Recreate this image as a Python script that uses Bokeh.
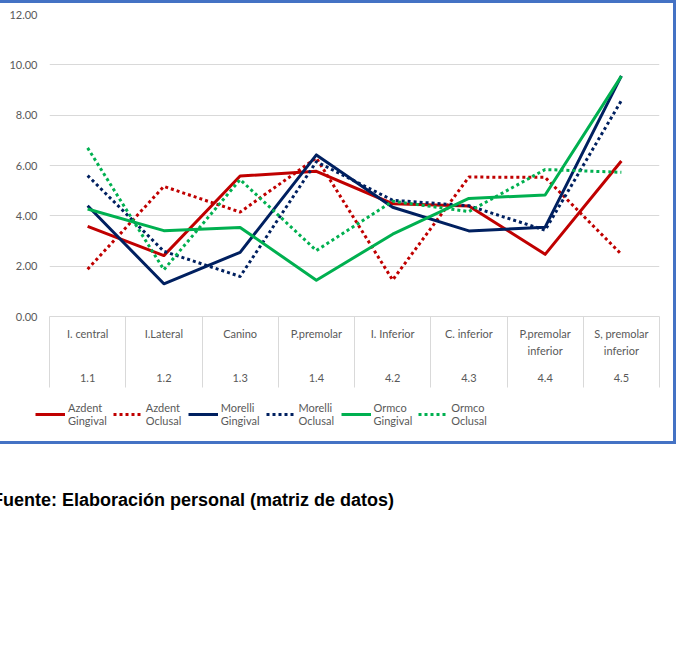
from bokeh.plotting import figure
from bokeh.models import (FixedTicker, LinearAxis, Range1d, Legend, LegendItem,
                          NumeralTickFormatter, Div)
from bokeh.layouts import column
from bokeh.embed import file_html
from bokeh.resources import INLINE

categories = ["I. central", "I.Lateral", "Canino", "P.premolar", "I. Inferior",
              "C. inferior", "P.premolar\ninferior", "S, premolar\ninferior"]
codes = ["1.1", "1.2", "1.3", "1.4", "4.2", "4.3", "4.4", "4.5"]
y_ticks = [0, 2, 4, 6, 8, 10, 12]

azdent_gingival = [3.58, 2.42, 5.58, 5.77, 4.48, 4.39, 2.47, 6.18]
azdent_oclusal = [1.88, 5.17, 4.15, 6.30, 1.45, 5.54, 5.53, 2.47]
morelli_gingival = [4.40, 1.30, 2.55, 6.42, 4.34, 3.40, 3.55, 9.56]
morelli_oclusal = [5.60, 2.59, 1.59, 6.15, 4.62, 4.40, 3.43, 8.58]
ormco_gingival = [4.27, 3.41, 3.54, 1.44, 3.27, 4.69, 4.83, 9.55]
ormco_oclusal = [6.70, 1.86, 5.44, 2.62, 4.58, 4.17, 5.84, 5.73]

series = [
    ("Azdent\nGingival", azdent_gingival, "#C00000", "solid"),
    ("Azdent\nOclusal", azdent_oclusal, "#C00000", "3 3"),
    ("Morelli\nGingival", morelli_gingival, "#002060", "solid"),
    ("Morelli\nOclusal", morelli_oclusal, "#002060", "3 3"),
    ("Ormco\nGingival", ormco_gingival, "#00B050", "solid"),
    ("Ormco\nOclusal", ormco_oclusal, "#00B050", "3 3"),
]

n = len(categories)
centers = [i + 0.5 for i in range(n)]
bounds = [float(i) for i in range(n + 1)]

FONT = "Lato"
GREY = "#595959"
GRID = "#d9d9d9"

p = figure(width=676, height=389, x_range=Range1d(0, n), y_range=Range1d(0, 12),
           output_backend="svg", toolbar_location=None, x_axis_location=None,
           min_border_left=52, min_border_right=14, min_border_top=11,
           min_border_bottom=76)
p.outline_line_color = None
p.background_fill_color = "white"
p.border_fill_color = "white"

# y axis
yax = p.yaxis[0]
yax.ticker = FixedTicker(ticks=y_ticks)
yax.formatter = NumeralTickFormatter(format="0.00")
yax.axis_line_color = None
yax.major_tick_line_color = None
yax.minor_tick_line_color = None
yax.major_tick_out = 0
yax.minor_tick_out = 0
yax.major_label_standoff = 12
yax.major_label_text_font = FONT
yax.major_label_text_font_size = "11px"
yax.major_label_text_color = GREY

p.xgrid.visible = False
p.ygrid.ticker = FixedTicker(ticks=y_ticks)
p.ygrid.grid_line_color = GRID

# category axis: names with separators
SEP = 71
ax1 = LinearAxis(ticker=FixedTicker(ticks=centers, minor_ticks=bounds),
                 major_label_overrides={c: t for c, t in zip(centers, categories)})
ax1.axis_line_color = GRID
ax1.major_tick_line_color = None
ax1.major_tick_out = 0
ax1.major_tick_in = 0
ax1.minor_tick_in = 0
ax1.minor_tick_out = SEP
ax1.minor_tick_line_color = GRID
ax1.major_label_standoff = 10 - SEP
ax1.major_label_text_font = FONT
ax1.major_label_text_font_size = "11px"
ax1.major_label_text_color = GREY
ax1.major_label_text_line_height = 1.34
p.add_layout(ax1, "below")

ax2 = LinearAxis(ticker=FixedTicker(ticks=centers, minor_ticks=[]),
                 major_label_overrides={c: t for c, t in zip(centers, codes)})
ax2.axis_line_color = None
ax2.major_tick_line_color = None
ax2.minor_tick_line_color = None
ax2.major_tick_out = 0
ax2.major_tick_in = 0
ax2.major_label_standoff = 14
ax2.major_label_text_font = FONT
ax2.major_label_text_font_size = "11px"
ax2.major_label_text_color = GREY
p.add_layout(ax2, "below")

for label, vals, color, dash in series:
    p.line(centers, vals, line_color=color, line_width=3, line_dash=dash,
           line_join="round")

# legend strip inside the bordered box; its lines use the same data but
# fall outside this strip's y range, so only the legend keys show
p2 = figure(width=660, height=49, x_range=Range1d(0, n), y_range=Range1d(100, 101),
            output_backend="svg", toolbar_location=None,
            x_axis_location=None, y_axis_location=None,
            min_border_left=0, min_border_right=0, min_border_top=8,
            min_border_bottom=0, margin=(0, 0, 0, -15))
p2.outline_line_color = None
p2.grid.visible = False
p2.border_fill_color = "white"
items = []
for label, vals, color, dash in series:
    r = p2.line(centers, vals, line_color=color, line_width=3, line_dash=dash)
    items.append(LegendItem(label=label, renderers=[r]))

legend = Legend(items=items, orientation="horizontal", location="top_left",
                glyph_width=30, glyph_height=14, label_standoff=3, label_width=36,
                spacing=6, padding=2, margin=1, border_line_color=None,
                background_fill_alpha=0,
                label_text_font=FONT, label_text_font_size="11px",
                label_text_color=GREY, label_text_line_height=1.45)
p2.add_layout(legend, "center")

box = column(p, p2, spacing=0, styles={"border": "3px solid #4472C4",
                                       "background": "white"})

caption = Div(text="Fuente: Elaboración personal (matriz de datos)",
              styles={"font-family": "Liberation Sans", "font-weight": "bold",
                      "font-size": "18px", "color": "#000000"},
              margin=(44, 0, 0, -2))

layout = column(box, caption, spacing=0, margin=(0, 0, 0, -6))

open("out.html", "w").write(file_html(layout, INLINE))
